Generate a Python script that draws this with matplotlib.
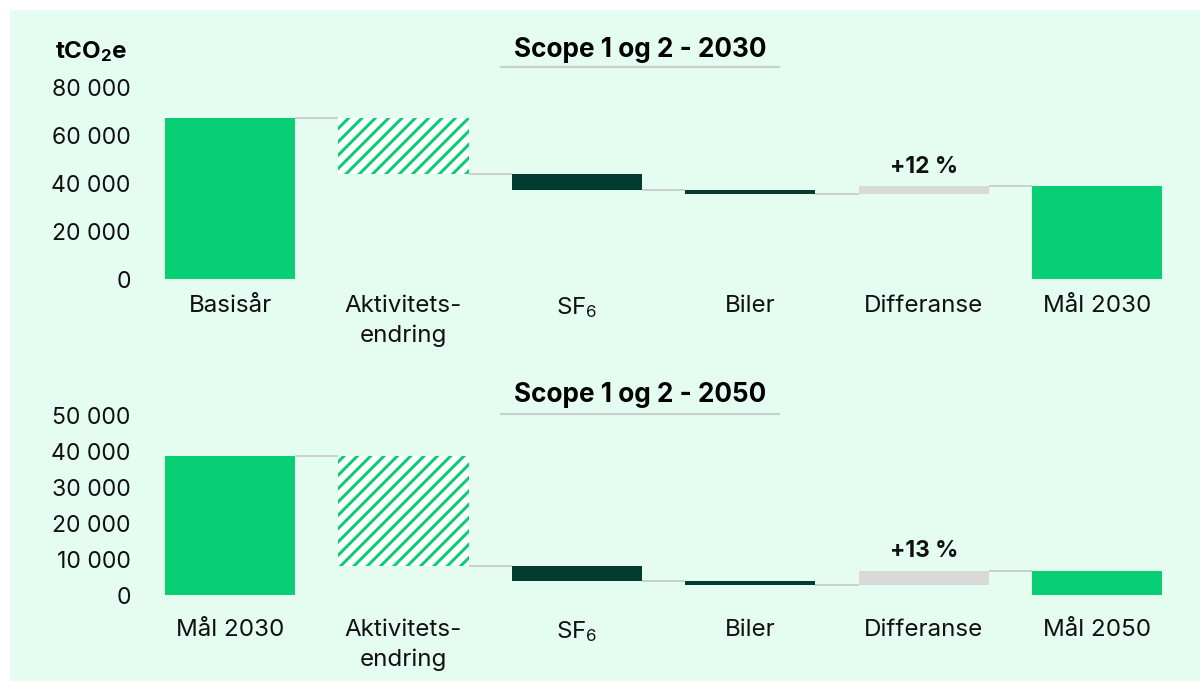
import matplotlib.pyplot as plt
from matplotlib.ticker import FuncFormatter
from matplotlib.patches import Rectangle
from matplotlib.lines import Line2D

DPI = 120
W, H = 1200, 683

plt.rcParams['font.family'] = ['Inter', 'DejaVu Sans']
plt.rcParams['mathtext.fontset'] = 'custom'
plt.rcParams['mathtext.rm'] = 'Inter'
plt.rcParams['mathtext.bf'] = 'Inter:bold'
plt.rcParams['mathtext.default'] = 'rm'
plt.rcParams['hatch.linewidth'] = 1.8

# data
labels_2030 = ["Basisår", "Aktivitets-\nendring", "SF$_6$", "Biler", "Differanse", "Mål 2030"]
values_2030 = [67000, -23300, -6600, -1700, 3350]
pct_2030 = "+12 %"
ticks_2030 = [0, 20000, 40000, 60000, 80000]

labels_2050 = ["Mål 2030", "Aktivitets-\nendring", "SF$_6$", "Biler", "Differanse", "Mål 2050"]
values_2050 = [38750, -30700, -4070, -1280, 4050]
pct_2050 = "+13 %"
ticks_2050 = [0, 10000, 20000, 30000, 40000, 50000]

GREEN = '#08CF74'
DARK = '#023B2F'
GREY = '#D9D9D9'
BG = '#E5FCF1'
LINE = '#BFC4C2'
BW = 0.75


def px_axes(fig, left, right, top, bottom):
    return fig.add_axes([left / W, 1 - bottom / H, (right - left) / W, (bottom - top) / H])


def waterfall(ax, labels, values, pct, ticks, xpad):
    ends = []
    level = 0
    for v in values:
        level += v
        ends.append(level)
    total = ends[-1]
    x = range(len(labels))
    # start bar
    ax.bar(0, values[0], width=BW, color=GREEN, lw=0)
    # changes
    for i in range(1, len(values)):
        lo, hi = sorted([ends[i - 1], ends[i]])
        if i == 1:
            ax.bar(i, hi - lo, bottom=lo, width=BW, facecolor='white', edgecolor=GREEN, hatch='///', lw=0)
        elif i == len(values) - 1:
            ax.bar(i, hi - lo, bottom=lo, width=BW, color=GREY, lw=0)
            ax.annotate(pct, (i, hi), xytext=(0, 5), textcoords='offset points',
                        ha='center', va='bottom', fontsize=13.7, fontweight='bold', color='#111111')
        else:
            ax.bar(i, hi - lo, bottom=lo, width=BW, color=DARK, lw=0)
    ax.bar(len(values), total, width=BW, color=GREEN, lw=0)
    # connectors
    for i in range(len(values)):
        ax.plot([i + BW / 2, i + 1 - BW / 2], [ends[i], ends[i]], color=LINE, lw=0.9, solid_capstyle='butt')
    ax.set_xlim(-0.5, len(labels) - 0.5)
    ax.set_ylim(0, ticks[-1])
    ax.set_yticks(ticks)
    ax.yaxis.set_major_formatter(FuncFormatter(lambda v, p: f"{v:,.0f}".replace(",", " ")))
    ax.set_xticks(list(x))
    ax.set_xticklabels(labels, linespacing=1.45)
    ax.tick_params(length=0, colors='#111111')
    ax.tick_params(axis='y', pad=7.5, labelsize=13.8)
    ax.tick_params(axis='x', pad=xpad, labelsize=14.5)
    for s in ax.spines.values():
        s.set_visible(False)
    ax.patch.set_alpha(0)


fig = plt.figure(figsize=(W / DPI, H / DPI), dpi=DPI, facecolor='white')
fig.patches.append(Rectangle((10 / W, 2 / H), 1, 1 - 12 / H, transform=fig.transFigure,
                             facecolor=BG, edgecolor='none', zorder=-10))

ax1 = px_axes(fig, 143.3, 1184, 87, 279)
waterfall(ax1, labels_2030, values_2030, pct_2030, ticks_2030, 9.4)
ax2 = px_axes(fig, 143.3, 1184, 415, 595)
waterfall(ax2, labels_2050, values_2050, pct_2050, ticks_2050, 14.2)

fig.text(640 / W, 1 - 50 / H, "Scope 1 og 2 - 2030", ha='center', va='center', fontsize=15.7, fontweight='bold')
fig.add_artist(Line2D([501 / W, 779 / W], [1 - 66.7 / H] * 2, color='#C6CFCA', lw=1.3))
fig.text(640 / W, 1 - 395 / H, "Scope 1 og 2 - 2050", ha='center', va='center', fontsize=15.7, fontweight='bold')
fig.add_artist(Line2D([501 / W, 779 / W], [1 - 414 / H] * 2, color='#C6CFCA', lw=1.3))
fig.text(55 / W, 1 - 52 / H, r"$\mathbf{tCO_2e}$", ha='left', va='center', fontsize=14.5)

fig.savefig("out.png", dpi=DPI, facecolor='white')
